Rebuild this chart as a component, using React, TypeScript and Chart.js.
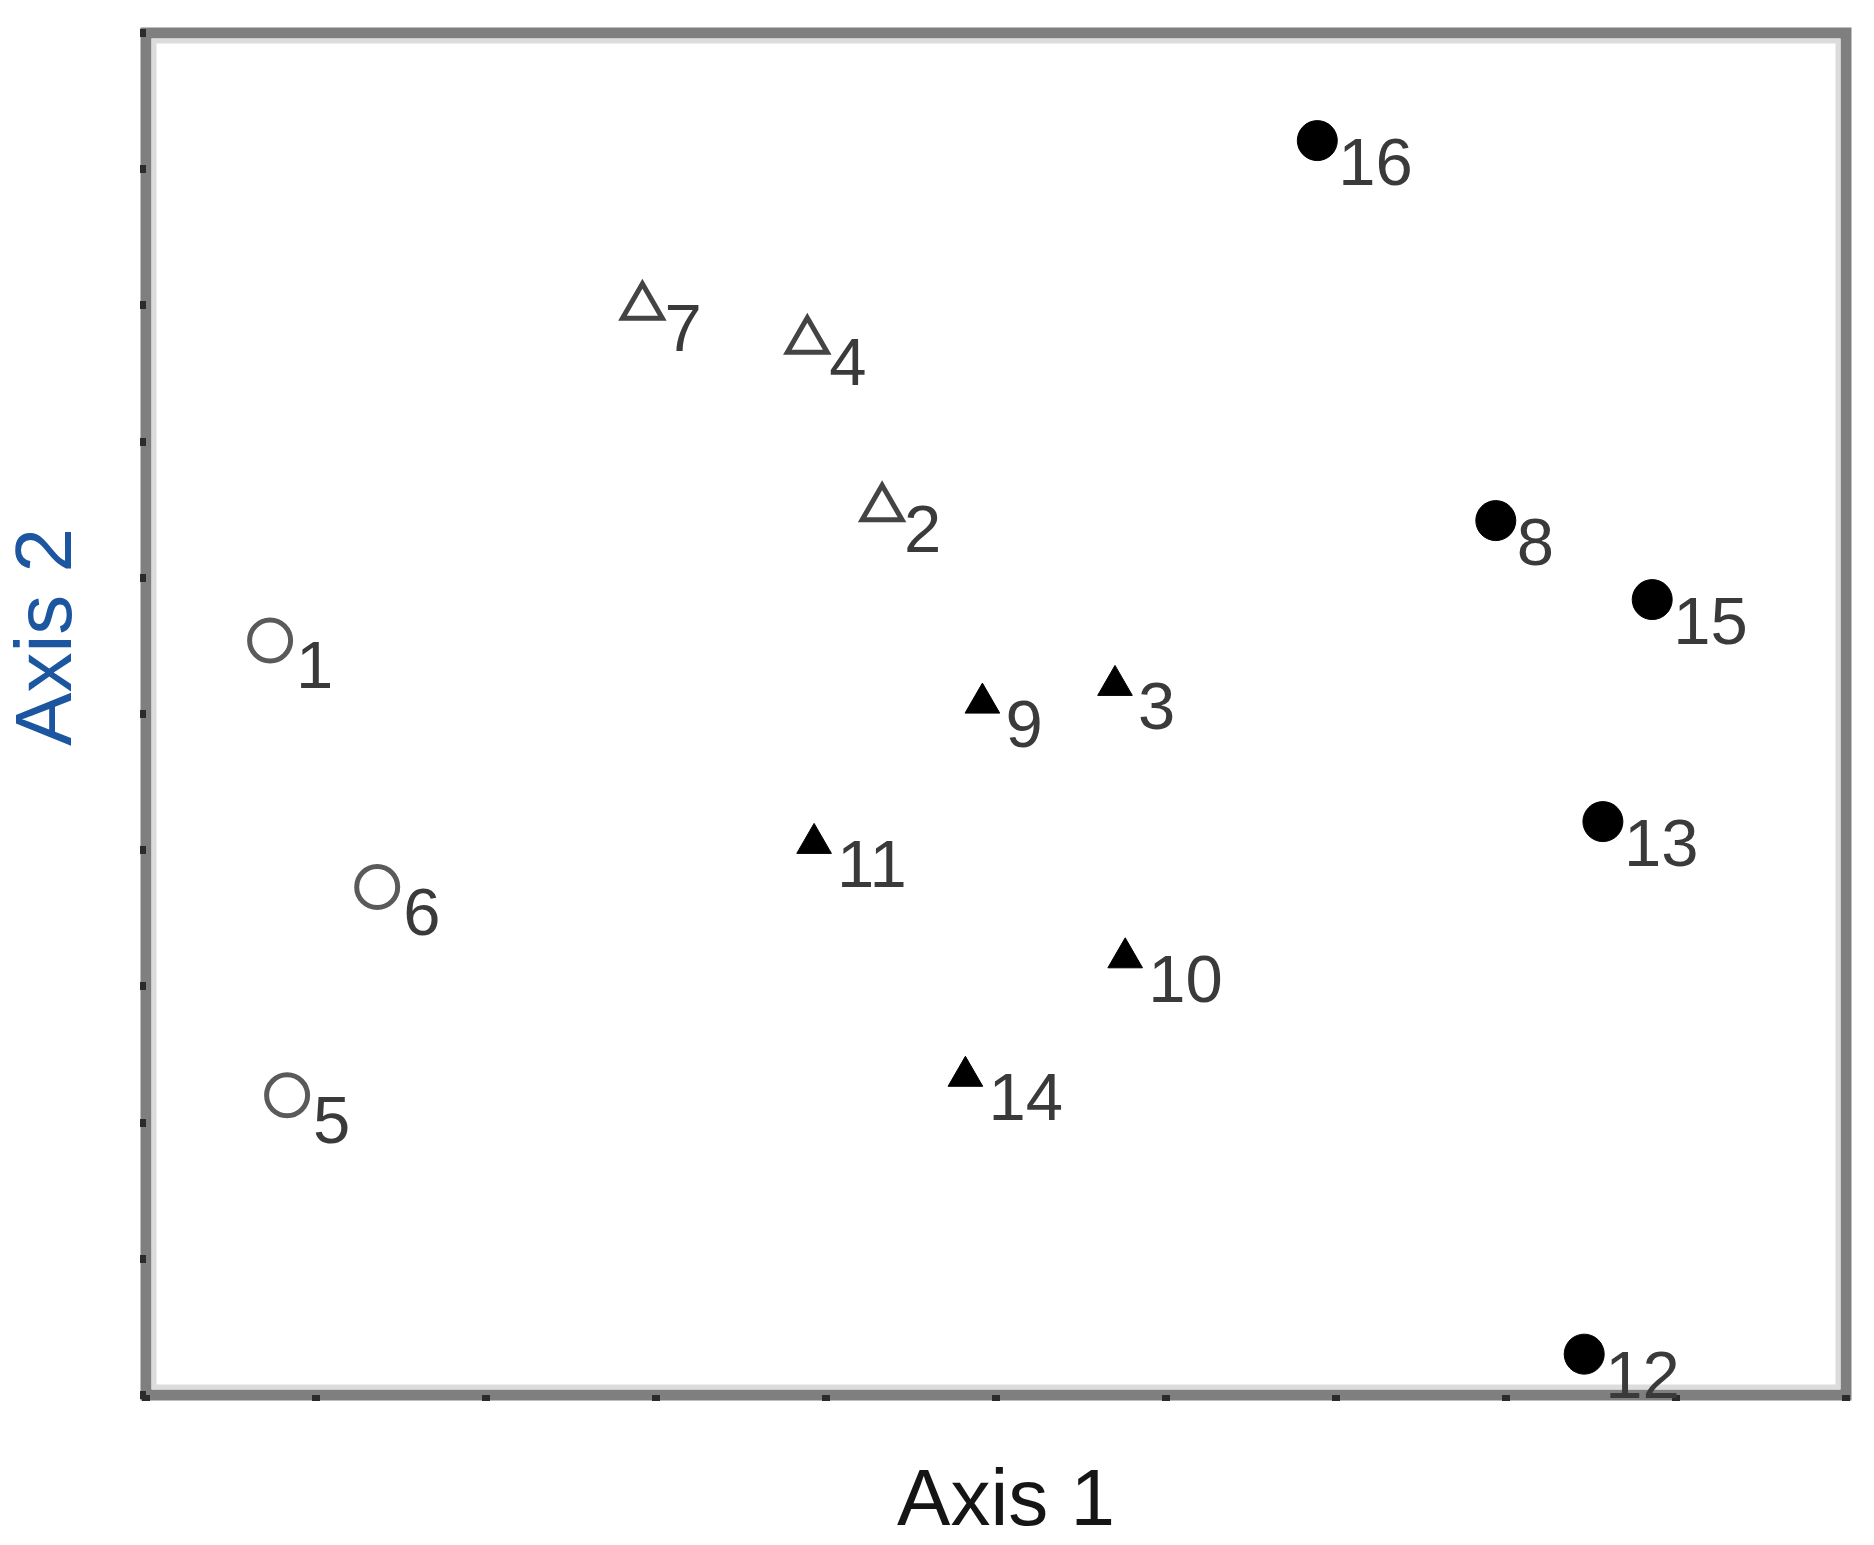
import React, { useEffect, useRef } from 'react';
import { Chart, registerables } from 'chart.js';

Chart.register(...registerables);

// Open circles
const openCircleIds = ['1', '6', '5'];
const openCircleX = [0.73, 1.36, 0.83];
const openCircleY = [5.54, 3.73, 2.2];

// Open triangles
const openTriangleIds = ['7', '4', '2'];
const openTriangleX = [2.92, 3.89, 4.33];
const openTriangleY = [7.99, 7.74, 6.51];

// Filled triangles
const filledTriangleIds = ['9', '3', '11', '10', '14'];
const filledTriangleX = [4.92, 5.7, 3.93, 5.76, 4.82];
const filledTriangleY = [5.08, 5.21, 4.05, 3.21, 2.34];

// Filled circles
const filledCircleIds = ['16', '8', '15', '13', '12'];
const filledCircleX = [6.89, 7.94, 8.86, 8.57, 8.46];
const filledCircleY = [9.21, 6.42, 5.84, 4.21, 0.3];

// Axis ticks (unlabelled)
const xTickValues = [0, 1, 2, 3, 4, 5, 6, 7, 8, 9, 10];
const yTickValues = [0, 1, 2, 3, 4, 5, 6, 7, 8, 9, 10];

const xTitle = 'Axis 1';
const yTitle = 'Axis 2';

const FONT = '"Liberation Sans Narrow", "Liberation Sans", Arial, sans-serif';

const toPoints = (xs: number[], ys: number[]) => xs.map((x, i) => ({ x, y: ys[i] }));

export default function App() {
  const ref = useRef<HTMLCanvasElement>(null);

  useEffect(() => {
    document.body.style.margin = '0';
    const canvas = ref.current;
    if (!canvas) return;

    const labelSets = [openCircleIds, openTriangleIds, filledTriangleIds, filledCircleIds];
    const labelOffsets = [
      { dx: 26, dy: 48 },
      { dx: 22, dy: 44 },
      { dx: 23, dy: 44 },
      { dx: 21, dy: 44 },
    ];

    const framePlugin = {
      id: 'frame',
      beforeDraw(chart: any) {
        const { ctx, chartArea } = chart;
        const { left, top, right, bottom } = chartArea;
        ctx.save();
        ctx.strokeStyle = '#7f7f7f';
        ctx.lineWidth = 11;
        ctx.strokeRect(left, top, right - left, bottom - top);
        ctx.strokeStyle = '#dcdcdc';
        ctx.lineWidth = 5;
        ctx.strokeRect(left + 8, top + 8, right - left - 16, bottom - top - 16);
        ctx.restore();
      },
    };

    const labelPlugin = {
      id: 'pointLabels',
      afterDatasetsDraw(chart: any) {
        const { ctx } = chart;
        ctx.save();
        ctx.font = `67px ${FONT}`;
        ctx.fillStyle = '#3a3a3a';
        ctx.textAlign = 'left';
        ctx.textBaseline = 'alphabetic';
        chart.data.datasets.forEach((_: any, di: number) => {
          const meta = chart.getDatasetMeta(di);
          const ids = labelSets[di];
          const off = labelOffsets[di];
          meta.data.forEach((pt: any, j: number) => {
            ctx.fillText(ids[j], pt.x + off.dx, pt.y + off.dy);
          });
        });
        ctx.restore();
      },
    };

    const titlePlugin = {
      id: 'axisTitles',
      afterDraw(chart: any) {
        const { ctx } = chart;
        ctx.save();
        ctx.font = `80px ${FONT}`;
        ctx.textAlign = 'center';
        ctx.textBaseline = 'alphabetic';
        ctx.fillStyle = '#151515';
        ctx.fillText(xTitle, 1006, 1525);
        ctx.translate(71, 637);
        ctx.rotate(-Math.PI / 2);
        ctx.fillStyle = '#1c56a0';
        ctx.fillText(yTitle, 0, 0);
        ctx.restore();
      },
    };

    const gridOpts = {
      display: true,
      drawOnChartArea: false,
      drawTicks: true,
      tickLength: 6,
      tickWidth: 8,
      lineWidth: 8,
      tickColor: '#2b2b2b',
      color: '#2b2b2b',
    };

    const chart = new Chart(canvas, {
      type: 'scatter',
      data: {
        datasets: [
          {
            data: toPoints(openCircleX, openCircleY),
            pointStyle: 'circle',
            pointRadius: 20.5,
            pointBorderWidth: 5,
            borderColor: '#5a5a5a',
            backgroundColor: 'rgba(0,0,0,0)',
          },
          {
            data: toPoints(openTriangleX, openTriangleY),
            pointStyle: 'triangle',
            pointRadius: 23,
            pointBorderWidth: 5,
            borderColor: '#444444',
            backgroundColor: 'rgba(0,0,0,0)',
          },
          {
            data: toPoints(filledTriangleX, filledTriangleY),
            pointStyle: 'triangle',
            pointRadius: 20,
            pointBorderWidth: 1,
            borderColor: '#000000',
            backgroundColor: '#000000',
          },
          {
            data: toPoints(filledCircleX, filledCircleY),
            pointStyle: 'circle',
            pointRadius: 20,
            pointBorderWidth: 1,
            borderColor: '#000000',
            backgroundColor: '#000000',
          },
        ] as any,
      },
      options: {
        responsive: false,
        animation: false,
        devicePixelRatio: 1,
        layout: { padding: { top: 33, right: 17, left: 0, bottom: 0 } },
        plugins: {
          legend: { display: false },
          tooltip: { enabled: false },
        },
        scales: {
          x: {
            type: 'linear',
            position: 'bottom',
            min: 0,
            max: 10,
            afterBuildTicks: (s: any) => {
              s.ticks = xTickValues.map((v) => ({ value: v }));
            },
            afterFit: (s: any) => {
              s.height = 150;
            },
            ticks: { display: false },
            grid: gridOpts,
            border: { display: false },
            title: { display: false },
          },
          y: {
            type: 'linear',
            position: 'left',
            min: 0,
            max: 10,
            afterBuildTicks: (s: any) => {
              s.ticks = yTickValues.map((v) => ({ value: v }));
            },
            afterFit: (s: any) => {
              s.width = 146;
            },
            ticks: { display: false },
            grid: gridOpts,
            border: { display: false },
            title: { display: false },
          },
        },
      } as any,
      plugins: [framePlugin, labelPlugin, titlePlugin],
    });

    return () => chart.destroy();
  }, []);

  return (
    <canvas
      ref={ref}
      width={1874}
      height={1545}
      style={{ display: 'block', width: '1874px', height: '1545px' }}
    />
  );
}
